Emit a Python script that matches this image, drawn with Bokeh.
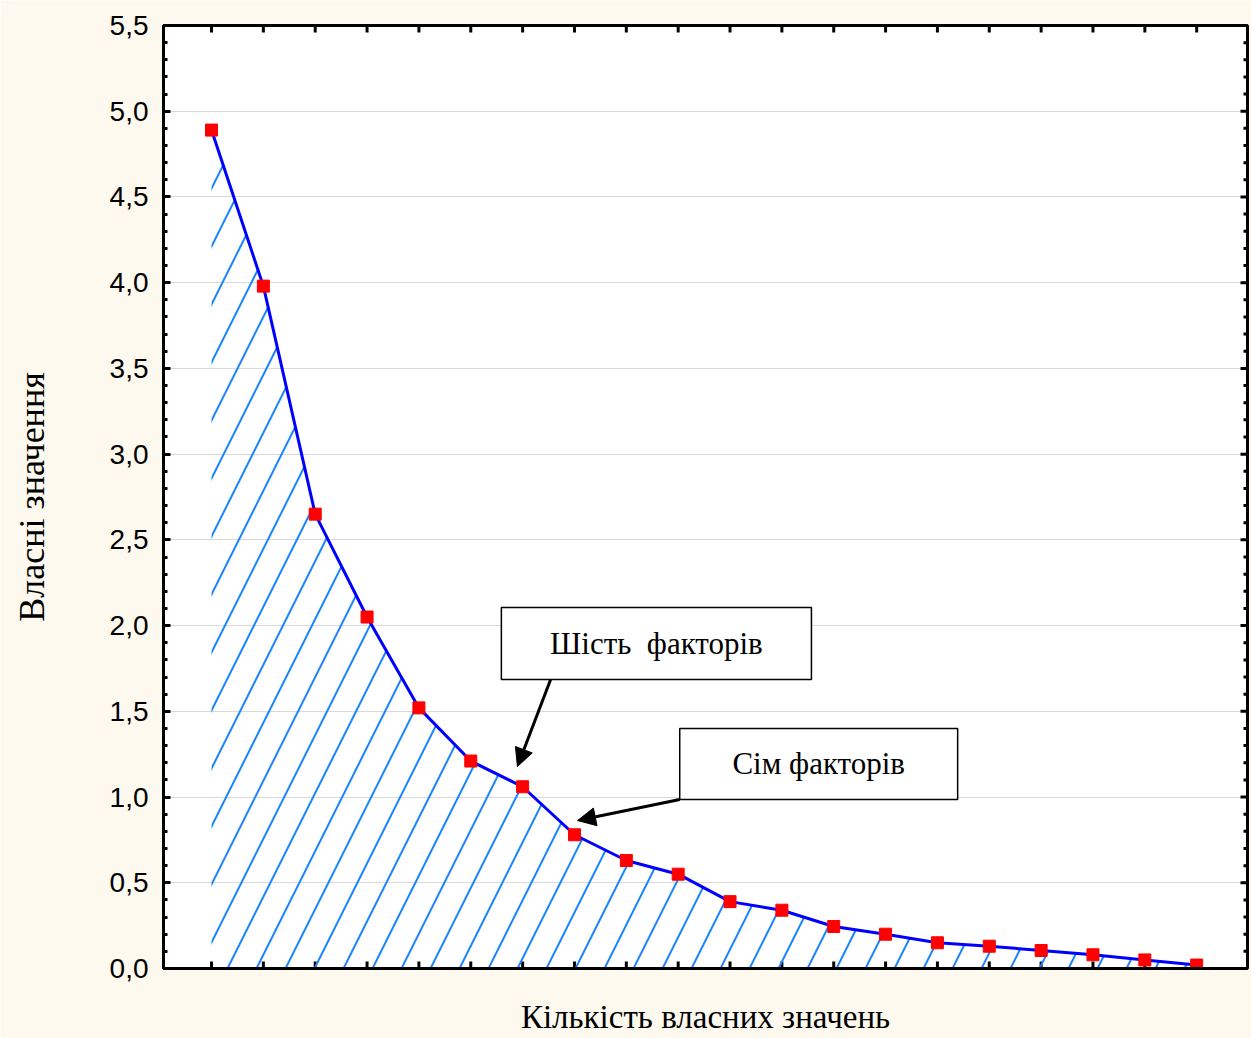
import math
from bokeh.plotting import figure
from bokeh.models import (Range1d, LinearAxis, FixedTicker, BoxAnnotation, Label,
                          Arrow, NormalHead)
from bokeh.embed import file_html
from bokeh.resources import INLINE

# ---- data ----
components = list(range(1, 21))
eigenvalues = [4.89, 3.98, 2.65, 2.05, 1.52, 1.21, 1.06, 0.78, 0.63, 0.55,
               0.39, 0.34, 0.245, 0.20, 0.15, 0.13, 0.105, 0.08, 0.05, 0.02]
y_ticks = [0.0, 0.5, 1.0, 1.5, 2.0, 2.5, 3.0, 3.5, 4.0, 4.5, 5.0, 5.5]
y_tick_labels = ["0,0", "0,5", "1,0", "1,5", "2,0", "2,5", "3,0", "3,5",
                 "4,0", "4,5", "5,0", "5,5"]
y_minor = [round(i * 0.1, 1) for i in range(0, 56) if i % 5 != 0]
x_label = "Кількість власних значень"
y_label = "Власні значення"
note1 = "Шість\u00a0 факторів"
note2 = "Сім факторів"
# annotation boxes (data coords): left, right, bottom, top
box1 = (6.59, 12.57, 1.686, 2.106)
box2 = (10.03, 15.39, 0.986, 1.400)
arrow1 = (7.54, 1.686, 6.90, 1.178)
arrow2 = (10.03, 0.986, 8.06, 0.863)

BG = "#fdf9ee"
SANS = "Liberation Sans"
SERIF = "Liberation Serif"
X0, X1 = 0.074, 20.98
Y0, Y1 = 0.0, 5.5

p = figure(width=1251, height=1038, output_backend="svg", toolbar_location=None,
           x_range=Range1d(X0, X1), y_range=Range1d(Y0, Y1),
           x_axis_location=None, y_axis_location=None,
           min_border_left=163, min_border_right=4, min_border_top=25,
           min_border_bottom=70)
p.background_fill_color = "white"
p.border_fill_color = BG
p.outline_line_color = "black"
p.outline_line_width = 3
p.xgrid.visible = False
p.ygrid.ticker = FixedTicker(ticks=y_ticks)
p.ygrid.grid_line_color = "#d9d9d9"
p.ygrid.grid_line_width = 1

left = LinearAxis(ticker=FixedTicker(ticks=y_ticks, minor_ticks=y_minor),
                  axis_label=y_label)
left.axis_line_color = "black"
left.axis_line_width = 3
left.major_tick_line_color = "black"
left.major_tick_line_width = 3
left.major_tick_in = 7
left.major_tick_out = 0
left.minor_tick_line_color = "black"
left.minor_tick_line_width = 3
left.minor_tick_in = 4
left.minor_tick_out = 0
left.major_label_overrides = {t: l for t, l in zip(y_ticks, y_tick_labels)}
left.major_label_text_font = SANS
left.major_label_text_font_size = "28px"
left.major_label_text_color = "black"
left.major_label_standoff = 15
left.axis_label_text_font = SERIF
left.axis_label_text_font_size = "36px"
left.axis_label_text_font_style = "normal"
left.axis_label_text_color = "black"
left.axis_label_standoff = 55
p.add_layout(left, "left")

bottom = LinearAxis(ticker=FixedTicker(ticks=[]), axis_label=x_label)
bottom.axis_line_color = "black"
bottom.axis_line_width = 3
bottom.axis_label_text_font = SERIF
bottom.axis_label_text_font_size = "33px"
bottom.axis_label_text_font_style = "normal"
bottom.axis_label_text_color = "black"
bottom.axis_label_standoff = 30
p.add_layout(bottom, "below")

# inward tick marks on the bottom, top and right edges (clipped to the frame)
n = len(components)
p.scatter(components, [Y0] * n, marker="dash", size=14, angle=math.pi / 2,
          line_color="black", line_width=3)
p.scatter(components, [Y1] * n, marker="dash", size=14, angle=math.pi / 2,
          line_color="black", line_width=3)
p.scatter([X1] * len(y_ticks), y_ticks, marker="dash", size=14,
          line_color="black", line_width=3)
p.scatter([X1] * len(y_minor), y_minor, marker="dash", size=8,
          line_color="black", line_width=3)

# hatched area under the curve
p.varea(x=components, y1=[0] * n, y2=eigenvalues,
        fill_alpha=0, hatch_pattern="/", hatch_color="#1a85ff",
        hatch_scale=58, hatch_weight=2)

p.line(components, eigenvalues, line_color="#0000ff", line_width=3)
p.scatter(components, eigenvalues, marker="square", size=12,
          fill_color="#ff0000", line_color="#ff0000")

for (l, r, b, t), txt in ((box1, note1), (box2, note2)):
    p.add_layout(BoxAnnotation(left=l, right=r, bottom=b, top=t,
                               fill_color="white", fill_alpha=1,
                               line_color="black", line_alpha=1, line_width=1.5,
                               level="overlay"))
    p.add_layout(Label(x=(l + r) / 2, y=(b + t) / 2, text=txt,
                       text_align="center", text_baseline="middle",
                       text_font=SERIF, text_font_size="31px",
                       text_color="black", level="overlay"))

for (xs, ys, xe, ye) in (arrow1, arrow2):
    p.add_layout(Arrow(x_start=xs, y_start=ys, x_end=xe, y_end=ye,
                       line_width=3, line_color="black",
                       end=NormalHead(size=18, fill_color="black",
                                      line_color="black")))

open("out.html", "w").write(file_html(p, INLINE))
